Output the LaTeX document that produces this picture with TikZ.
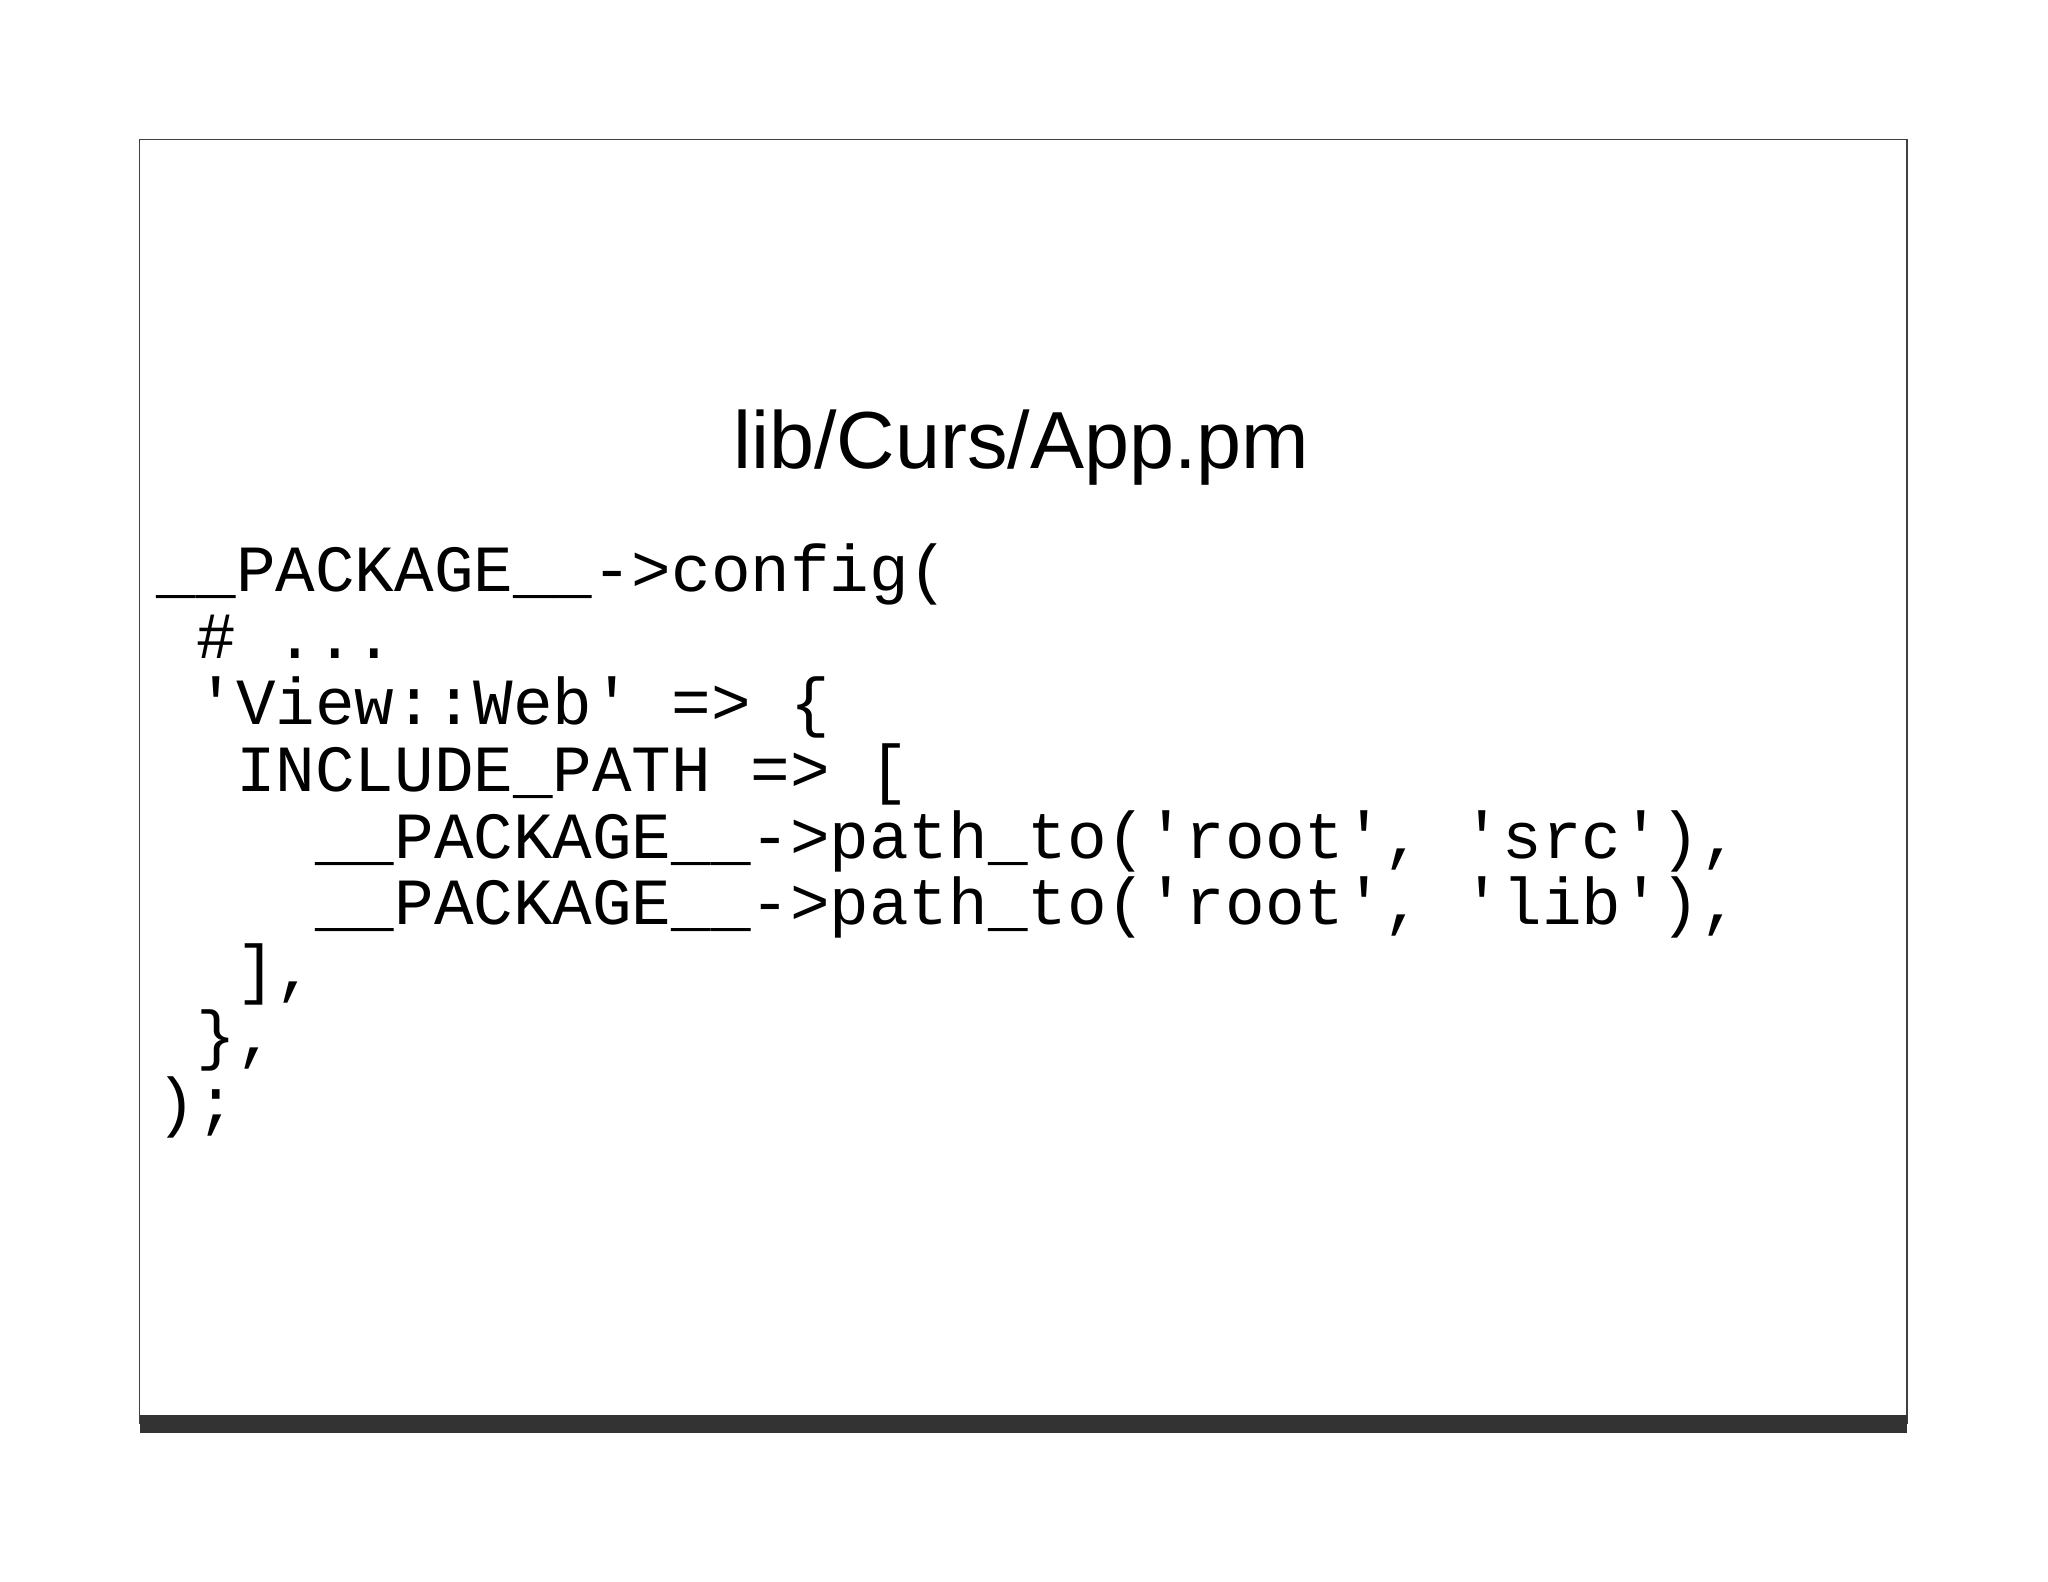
\documentclass[tikz,border=0pt]{standalone}
\usepackage{fontspec}
\setmainfont{Liberation Sans}
\newfontfamily\code{Liberation Mono}
\begin{document}
\begin{tikzpicture}[x=1pt,y=-1pt,
  codeline/.style={anchor=base west,inner sep=0pt,font=\code\fontsize{50.5}{50.5}\selectfont}]
\useasboundingbox (0,0) rectangle (1568,1211);
\fill[white] (0,0) rectangle (1568,1211);
\draw[line width=1pt,black!75] (107,107) rectangle (1460,1090);
\fill[black!80] (107,1083) rectangle (1460,1097);
\node[anchor=base,inner sep=0pt,font=\fontsize{62}{62}\selectfont] (title) at (782,359) {lib/Curs/App.pm};
\def\cw{30.3}
\node[codeline] (l1) at (120,453) {\_\_PACKAGE\_\_->config(};
\node[codeline] (l2) at (120+\cw,504) {\# ...};
\node[codeline] (l3) at (120+\cw,555) {'View::Web' => \{};
\node[codeline] (l4) at (120+2*\cw,606) {INCLUDE\_PATH => [};
\node[codeline] (l5) at (120+4*\cw,657) {\_\_PACKAGE\_\_->path\_to('root', 'src'),};
\node[codeline] (l6) at (120+4*\cw,708) {\_\_PACKAGE\_\_->path\_to('root', 'lib'),};
\node[codeline] (l7) at (120+2*\cw,759) {],};
\node[codeline] (l8) at (120+\cw,810) {\},};
\node[codeline] (l9) at (120,861) {);};
\end{tikzpicture}
\end{document}
